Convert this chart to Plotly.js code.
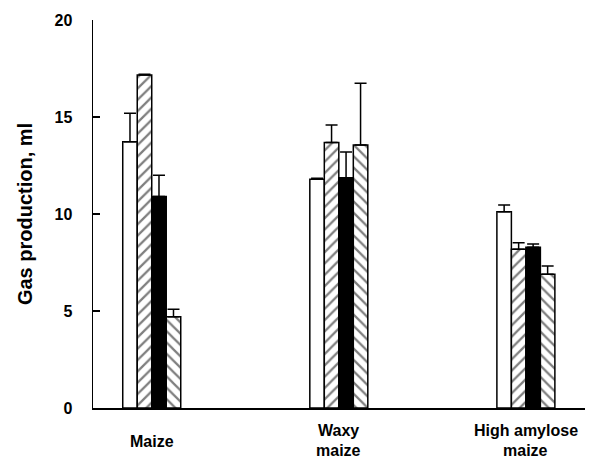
<!DOCTYPE html>
<html>
<head>
<meta charset="utf-8">
<script src="https://cdn.plot.ly/plotly-3.0.1.min.js"></script>
<style>html,body{margin:0;padding:0;background:#fff;}#chart{width:593px;height:461px;}</style>
</head>
<body>
<div id="chart"></div>
<script>
const categories = ["Maize", "Waxy<br>maize", "High amylose<br>maize"];
const seriesA = [13.73, 11.79, 10.12];
const errA = [1.46, 0.05, 0.34];
const seriesB = [17.16, 13.69, 8.18];
const errB = [0.05, 0.90, 0.34];
const seriesC = [10.90, 11.87, 8.28];
const errC = [1.10, 1.33, 0.17];
const seriesD = [4.70, 13.56, 6.89];
const errD = [0.39, 3.18, 0.43];
const yTicks = [0, 5, 10, 15, 20];

const xIdx = categories.map((c, i) => i);
const font = {family: "Liberation Sans, Arial, sans-serif", color: "#000"};

function mk(vals, errs, fill, shape) {
  const marker = {color: fill, line: {color: "#000", width: 1.5}};
  if (shape) marker.pattern = {shape: shape, fgcolor: "#000", bgcolor: "#fff", size: 8, solidity: 0.28, fillmode: "overlay"};
  return {
    type: "bar", x: xIdx, y: vals, marker: marker,
    error_y: {type: "data", array: errs, symmetric: false, arrayminus: errs.map(() => 0), color: "#000", thickness: 1.5, width: 6},
    showlegend: false, hoverinfo: "skip"
  };
}

const data = [
  mk(seriesA, errA, "#fff", null),
  mk(seriesB, errB, "#fff", "/"),
  mk(seriesC, errC, "#000", null),
  mk(seriesD, errD, "#fff", "\\")
];

// x category labels: plot area top 20px, bottom 408px (388px tall)
const toPaper = py => (408 - py) / 388;
const annotations = [];
categories.forEach((c, i) => {
  const lines = c.split("<br>");
  const centers = lines.length === 1 ? [442] : [430, 450];
  lines.forEach((ln, k) => annotations.push({
    x: i, xref: "x", y: toPaper(centers[k]), yref: "paper", text: "<b>" + ln + "</b>",
    showarrow: false, xanchor: "center", yanchor: "middle",
    font: Object.assign({}, font, {size: 16})
  }));
});

const layout = {
  width: 593, height: 461,
  margin: {l: 93, r: 8, t: 20, b: 53},
  paper_bgcolor: "#fff", plot_bgcolor: "#fff",
  barmode: "group", bargap: 0.69, bargroupgap: 0,
  font: font,
  xaxis: {
    range: [-0.314, 2.316], showticklabels: false, ticks: "",
    showgrid: false, zeroline: false, showline: true, linecolor: "#000", linewidth: 1.5
  },
  yaxis: {
    range: [0, 20], tickvals: yTicks, ticktext: yTicks.map(v => "<b>" + v + "</b>"),
    ticks: "inside", ticklen: 7, tickcolor: "#000", tickwidth: 1.5,
    showgrid: false, zeroline: false, showline: true, linecolor: "#000", linewidth: 1.5,
    tickfont: Object.assign({}, font, {size: 16}),
    ticklabelstandoff: 16,
    title: {text: "<b>Gas production, ml</b>", font: Object.assign({}, font, {size: 20}), standoff: 16}
  },
  annotations: annotations
};

Plotly.newPlot("chart", data, layout, {displayModeBar: false, staticPlot: true});
</script>
</body>
</html>
